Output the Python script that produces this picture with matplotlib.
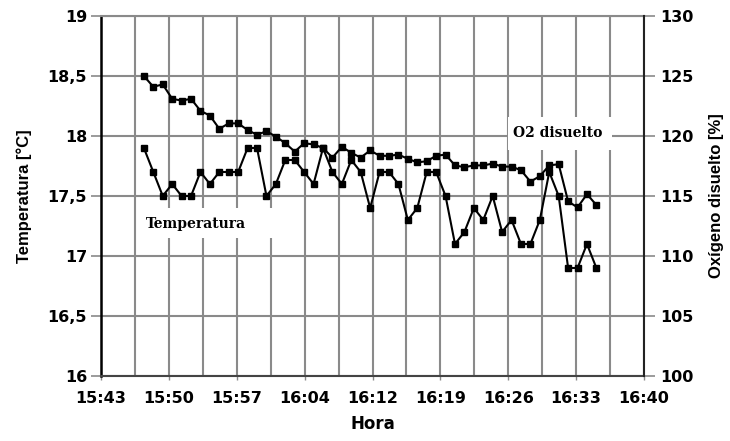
import numpy as np
import matplotlib
matplotlib.use("Agg")
import matplotlib.pyplot as plt
from matplotlib.patches import Rectangle

# Sample times (HH:MM:SS), one reading per minute
hora = [
    "15:47:45", "15:48:45", "15:49:45", "15:50:45", "15:51:45", "15:52:45", "15:53:45",
    "15:54:45", "15:55:45", "15:56:45", "15:57:45", "15:58:45", "15:59:45", "16:00:45",
    "16:01:45", "16:02:45", "16:03:45", "16:04:45", "16:05:45", "16:06:45", "16:07:45",
    "16:08:45", "16:09:45", "16:10:45", "16:11:45", "16:12:45", "16:13:45", "16:14:45",
    "16:15:45", "16:16:45", "16:17:45", "16:18:45", "16:19:45", "16:20:45", "16:21:45",
    "16:22:45", "16:23:45", "16:24:45", "16:25:45", "16:26:45", "16:27:45", "16:28:45",
    "16:29:45", "16:30:45", "16:31:45", "16:32:45", "16:33:45", "16:34:45", "16:35:45",
]

# Water temperature [°C]
temperatura = [
    17.9, 17.7, 17.5, 17.6, 17.5, 17.5, 17.7, 17.6, 17.7, 17.7, 17.7, 17.9, 17.9, 17.5,
    17.6, 17.8, 17.8, 17.7, 17.6, 17.9, 17.7, 17.6, 17.8, 17.7, 17.4, 17.7, 17.7, 17.6,
    17.3, 17.4, 17.7, 17.7, 17.5, 17.1, 17.2, 17.4, 17.3, 17.5, 17.2, 17.3, 17.1, 17.1,
    17.3, 17.7, 17.5, 16.9, 16.9, 17.1, 16.9,
]

# Dissolved oxygen saturation [%]
oxigeno = [
    125.0, 124.1, 124.3, 123.1, 122.95, 123.1, 122.1, 121.7, 120.6, 121.05, 121.05, 120.5,
    120.1, 120.4, 119.95, 119.4, 118.7, 119.4, 119.3, 119.0, 118.2, 119.1, 118.6, 118.2,
    118.8, 118.35, 118.35, 118.45, 118.1, 117.8, 117.9, 118.35, 118.45, 117.55, 117.4,
    117.55, 117.55, 117.7, 117.45, 117.45, 117.15, 116.2, 116.65, 117.55, 117.65, 114.55,
    114.05, 115.15, 114.25,
]

x_tick_labels = ["15:43", "15:50", "15:57", "16:04", "16:12", "16:19", "16:26", "16:33", "16:40"]
temp_ticks = [16, 16.5, 17, 17.5, 18, 18.5, 19]
temp_tick_labels = ["16", "16,5", "17", "17,5", "18", "18,5", "19"]
o2_ticks = [100, 105, 110, 115, 120, 125, 130]
o2_tick_labels = ["100", "105", "110", "115", "120", "125", "130"]


def day_fraction(s):
    h, m, sec = (int(p) for p in s.split(":"))
    return (h * 3600 + m * 60 + sec) / 86400.0


x = np.array([day_fraction(t) for t in hora])

# time axis in fractions of a day, major step 0.005 d (7.2 min)
x_min, x_step = 0.655, 0.005
x_max = x_min + x_step * (len(x_tick_labels) - 1)

W, H = 730, 441
L, R, T, B = 101, 644, 16, 376


def ax_xy(px, py):
    """Pixel position inside the plot frame -> axes fraction."""
    return (px - L) / (R - L), (B - py) / (B - T)


tick_font = ["DejaVu Sans"]
title_font = ["Liberation Sans", "DejaVu Sans"]
label_font = ["DejaVu Serif"]

fig = plt.figure(figsize=(W / 100, H / 100), dpi=100)
ax = fig.add_axes([L / W, 1 - B / H, (R - L) / W, (B - T) / H])
ax2 = ax.twinx()

grid_col = "#8a8a8a"

# Left axis: temperature
ax.set_xlim(x_min, x_max)
ax.set_ylim(16, 19)
ax.set_yticks(temp_ticks)
ax.set_yticklabels(temp_tick_labels)
ax.set_xticks([x_min + i * x_step for i in range(len(x_tick_labels))])
ax.set_xticklabels(x_tick_labels)
ax.set_xticks([x_min + (i + 0.5) * x_step for i in range(len(x_tick_labels) - 1)], minor=True)
ax.grid(True, axis="y", which="major", color=grid_col, linewidth=1.5)
ax.grid(True, axis="x", which="both", color=grid_col, linewidth=1.5)
ax.set_axisbelow(True)

ax.tick_params(axis="y", which="major", direction="out", length=7, width=1.2,
               color=grid_col, labelsize=11.5, pad=3)
ax.tick_params(axis="x", which="major", direction="out", length=3, width=1.0,
               color=grid_col, labelsize=11.5, pad=8)
ax.tick_params(axis="x", which="minor", length=0)
for lab in ax.get_xticklabels() + ax.get_yticklabels():
    lab.set_fontweight("bold")
    lab.set_family(tick_font)

ax.set_xlabel("Hora", fontsize=12, fontweight="bold", family=tick_font, va="center")
ax.xaxis.set_label_coords(0.5, ax_xy(0, 424)[1])
ax.set_ylabel("Temperatura [°C]", fontsize=12, fontweight="bold", family=title_font,
              va="center")
ax.yaxis.set_label_coords(ax_xy(24, 0)[0], 0.5)

ax.spines["left"].set_color("black")
ax.spines["left"].set_linewidth(1.8)
ax.spines["bottom"].set_color("#444444")
ax.spines["bottom"].set_linewidth(1.5)
ax.spines["top"].set_color(grid_col)
ax.spines["top"].set_linewidth(1.5)
ax.spines["right"].set_visible(False)

ax.plot(x, temperatura, color="black", linewidth=1.5, marker="s",
        markersize=4.5, zorder=4)

# Series label boxes
bx, by = ax_xy(140, 238)
ax.add_patch(Rectangle((bx, by), 145 / (R - L), 30 / (B - T),
                       transform=ax.transAxes, facecolor="white", edgecolor="none", zorder=3))
tx, ty = ax_xy(146, 224)
ax.text(tx, ty, "Temperatura", transform=ax.transAxes, family=label_font,
        fontweight="bold", fontsize=10, ha="left", va="center", zorder=5)

# Right axis: dissolved oxygen
ax2.set_ylim(100, 130)
ax2.set_yticks(o2_ticks)
ax2.set_yticklabels(o2_tick_labels)
ax2.tick_params(axis="y", direction="out", length=8, width=1.2, color=grid_col,
                labelsize=11.5, pad=4)
for lab in ax2.get_yticklabels():
    lab.set_fontweight("bold")
    lab.set_family(tick_font)
ax2.set_ylabel("Oxígeno disuelto [%]", fontsize=12, fontweight="bold", family=title_font,
               va="center")
ax2.yaxis.set_label_coords(ax_xy(717, 0)[0], 0.5)
for side in ["left", "top", "bottom"]:
    ax2.spines[side].set_visible(False)
ax2.spines["right"].set_color("#222222")
ax2.spines["right"].set_linewidth(1.5)

bx, by = ax_xy(508, 150)
ax2.add_patch(Rectangle((bx, by), 104 / (R - L), 33 / (B - T),
                        transform=ax2.transAxes, facecolor="white", edgecolor="none", zorder=1))
tx, ty = ax_xy(513, 133)
ax2.text(tx, ty, "O2 disuelto", transform=ax2.transAxes, family=label_font,
         fontweight="bold", fontsize=10, ha="left", va="center", zorder=5)

ax2.plot(x, oxigeno, color="black", linewidth=1.5, marker="s",
         markersize=4.5, zorder=4)

fig.savefig("out.png", dpi=100)
